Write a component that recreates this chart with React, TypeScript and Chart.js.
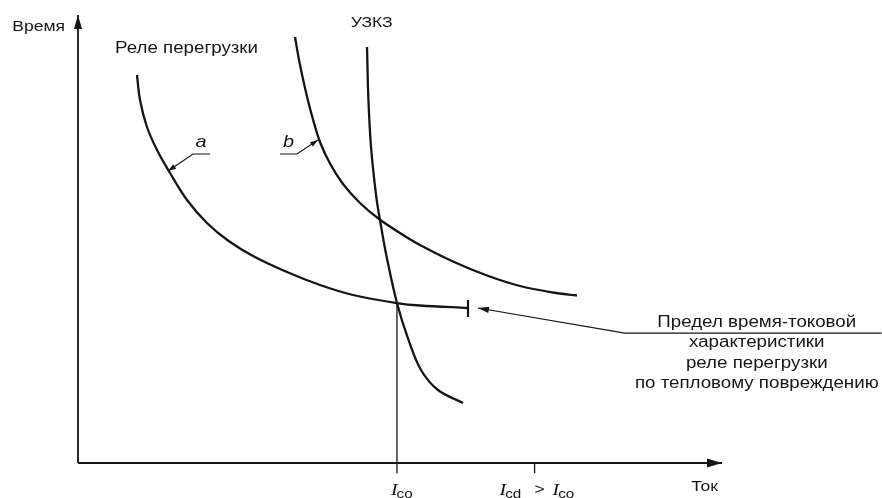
import React, { useEffect, useRef } from "react";
import { Chart, registerables } from "chart.js";

Chart.register(...registerables);

// Overload relay characteristic (curve a)
const overloadX = [9.16, 9.63, 10.71, 12.27, 14.29, 16.93, 20.03, 23.29, 27.17, 32.45, 37.58, 42.7, 49.53, 53.11, 60.56];
const overloadY = [86.61, 81.03, 75.0, 69.87, 64.73, 58.71, 53.57, 49.67, 46.21, 42.63, 39.73, 37.5, 35.71, 35.16, 34.6];
// Withstand characteristic (curve b)
const withstandX = [33.7, 34.32, 35.25, 36.34, 37.58, 39.13, 41.15, 43.79, 46.74, 50.0, 53.11, 58.23, 63.51, 68.63, 73.76, 77.48];
const withstandY = [95.09, 89.96, 83.71, 77.46, 71.65, 66.85, 62.28, 58.04, 54.46, 51.34, 48.66, 44.98, 41.85, 39.51, 38.06, 37.39];
// SCPD (УЗКЗ) characteristic
const scpdX = [44.88, 45.08, 45.5, 46.32, 46.89, 47.9, 49.53, 51.32, 53.26, 55.9, 59.78];
const scpdY = [92.86, 81.7, 70.54, 59.38, 54.24, 46.21, 35.71, 27.46, 20.76, 16.29, 13.39];

// Marked currents on the x axis
const Ico = 49.53;
const Icd = 70.9;
const tickLow = -2.3;

// Limit marker at the end of curve a
const limitX = 60.56;
const limitY = [32.6, 36.4];

// Annotation leader (arrow tip, bend, end of line)
const noteX = [62.1, 84.9, 124.8];
const noteY = [34.6, 29.0, 29.0];
const noteLines = [
  "Предел время-токовой",
  "характеристики",
  "реле перегрузки",
  "по тепловому повреждению",
];

// Leaders for labels a and b
const leaderAX = [20.5, 17.86, 13.98];
const leaderAY = [68.97, 68.97, 65.18];
const leaderBX = [31.37, 34.0, 37.27];
const leaderBY = [68.97, 68.97, 72.1];

const pts = (xs: number[], ys: number[]) => xs.map((x, i) => ({ x, y: ys[i] }));

const INK = "#151515";
const SX = 1.17;
const FONT = '"Liberation Sans", Arial, sans-serif';

export default function App() {
  const ref = useRef<HTMLCanvasElement | null>(null);

  useEffect(() => {
    if (!ref.current) return;
    const line = (data: any[], width: number, extra: any = {}) => ({
      data,
      borderColor: INK,
      borderWidth: width,
      pointRadius: 0,
      fill: false,
      tension: 0,
      clip: false as any,
      ...extra,
    });
    const curve = (data: any[]) => line(data, 2.3, { tension: 0.35, borderCapStyle: "butt" });

    const drawText = (
      ctx: CanvasRenderingContext2D,
      t: string,
      px: number,
      py: number,
      font: string,
      align: "left" | "center" | "right",
      baseline: CanvasTextBaseline = "middle"
    ) => {
      ctx.save();
      ctx.font = font;
      ctx.textBaseline = baseline;
      const w = ctx.measureText(t).width * SX;
      let x0 = px;
      if (align === "center") x0 = px - w / 2;
      if (align === "right") x0 = px - w;
      ctx.translate(x0, py);
      ctx.scale(SX, 1);
      ctx.textAlign = "left";
      ctx.fillText(t, 0, 0);
      ctx.restore();
      return w;
    };

    const arrowHead = (
      ctx: CanvasRenderingContext2D,
      tx: number,
      ty: number,
      fx: number,
      fy: number,
      len: number,
      half: number
    ) => {
      const a = Math.atan2(ty - fy, tx - fx);
      ctx.save();
      ctx.fillStyle = INK;
      ctx.beginPath();
      ctx.moveTo(tx, ty);
      ctx.lineTo(tx - len * Math.cos(a) + half * Math.sin(a), ty - len * Math.sin(a) - half * Math.cos(a));
      ctx.lineTo(tx - len * Math.cos(a) - half * Math.sin(a), ty - len * Math.sin(a) + half * Math.cos(a));
      ctx.closePath();
      ctx.fill();
      ctx.restore();
    };

    const annot = {
      id: "annot",
      afterDatasetsDraw(chart: any) {
        const ctx = chart.ctx as CanvasRenderingContext2D;
        const xs = chart.scales.x;
        const ys = chart.scales.y;
        const X = (v: number) => xs.getPixelForValue(v);
        const Y = (v: number) => ys.getPixelForValue(v);
        ctx.fillStyle = INK;

        // axis arrows
        arrowHead(ctx, X(100), Y(0), X(90), Y(0), 15, 4.5);
        arrowHead(ctx, X(0), Y(100), X(0), Y(90), 14, 4);
        // leader arrows
        arrowHead(ctx, X(noteX[0]), Y(noteY[0]), X(noteX[1]), Y(noteY[1]), 11, 3.2);
        arrowHead(ctx, X(leaderAX[2]), Y(leaderAY[2]), X(leaderAX[1]), Y(leaderAY[1]), 8, 2.6);
        arrowHead(ctx, X(leaderBX[2]), Y(leaderBY[2]), X(leaderBX[1]), Y(leaderBY[1]), 8, 2.6);

        const f16 = `16px ${FONT}`;
        drawText(ctx, "Время", X(-2.0), Y(97.3), `15px ${FONT}`, "right");
        drawText(ctx, "УЗКЗ", X(45.6), Y(98.2), `15px ${FONT}`, "center");
        drawText(ctx, "Реле перегрузки", X(5.75), Y(92.6), f16, "left");
        drawText(ctx, "a", X(19.1), Y(71.6), `italic 17px ${FONT}`, "center");
        drawText(ctx, "b", X(32.7), Y(71.6), `italic 17px ${FONT}`, "center");
        const noteYs = [31.3, 26.8, 22.3, 17.8];
        noteLines.forEach((t, i) => drawText(ctx, t, X(105.4), Y(noteYs[i]), f16, "center"));
        drawText(ctx, "Ток", X(97.3), Y(-5.4), `15px ${FONT}`, "center");

        // current labels
        const base = Y(0) + 32;
        const fi = `italic 17px "Liberation Serif", serif`;
        const fs = `13px ${FONT}`;
        const sub = (x: number, s: string) => {
          const w = drawText(ctx, "I", x, base, fi, "left", "alphabetic");
          drawText(ctx, s, x + w - 1, base + 3, fs, "left", "alphabetic");
        };
        sub(X(Ico) - 6, "co");
        sub(X(Icd) - 35, "cd");
        drawText(ctx, ">", X(Icd) + 5, base - 1, `15px ${FONT}`, "center", "alphabetic");
        sub(X(Icd) + 18, "co");
      },
    };

    const chart = new Chart(ref.current, {
      type: "line",
      data: {
        datasets: [
          line(pts([0, 100], [0, 0]), 1.8),
          line(pts([0, 0], [0, 100]), 1.8),
          curve(pts(overloadX, overloadY)),
          curve(pts(withstandX, withstandY)),
          curve(pts(scpdX, scpdY)),
          line(pts([Ico, Ico], [35.71, tickLow]), 1.3),
          line(pts([Icd, Icd], [0, tickLow]), 1.3),
          line(pts([limitX, limitX], limitY), 2.2),
          line(pts(noteX, noteY), 1.1),
          line(pts(leaderAX, leaderAY), 1.2),
          line(pts(leaderBX, leaderBY), 1.2),
        ],
      },
      options: {
        responsive: false,
        maintainAspectRatio: false,
        animation: false,
        layout: { padding: { left: 78, right: 160, top: 15, bottom: 35 } },
        scales: {
          x: { type: "linear", min: 0, max: 100, display: false },
          y: { type: "linear", min: 0, max: 100, display: false },
        },
        plugins: {
          legend: { display: false },
          tooltip: { enabled: false },
        },
        elements: { point: { radius: 0 } },
      },
      plugins: [annot],
    });
    return () => chart.destroy();
  }, []);

  return (
    <div style={{ position: "fixed", left: 0, top: 0, width: 882, height: 498, background: "#fff" }}>
      <canvas ref={ref} width={882} height={498} />
    </div>
  );
}
